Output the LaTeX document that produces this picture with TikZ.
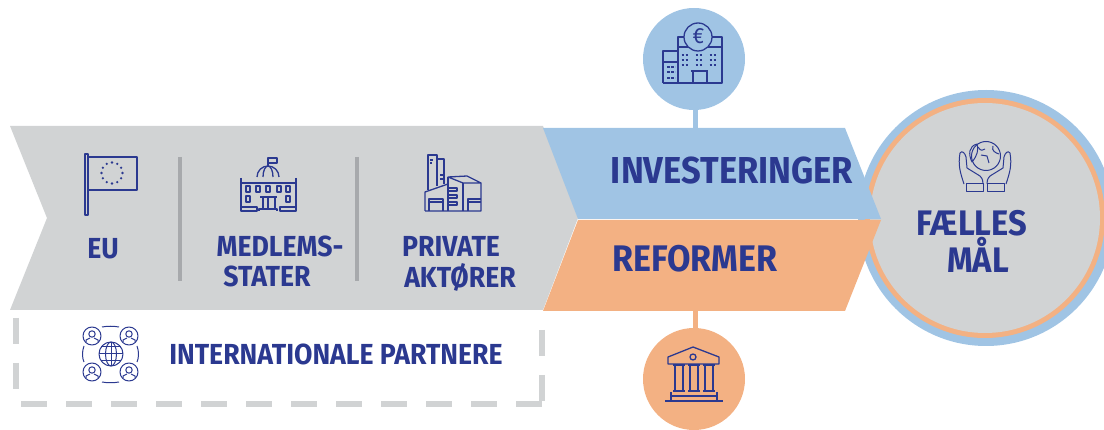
\documentclass[tikz,border=0pt]{standalone}
\usepackage{fontspec}
\setmainfont{Fira Sans}[FakeStretch=0.92]
\definecolor{grayband}{HTML}{D1D3D4}
\definecolor{divgray}{HTML}{A7A9AC}
\definecolor{bluefill}{HTML}{A0C4E4}
\definecolor{orangefill}{HTML}{F3B183}
\definecolor{ink}{HTML}{2B3990}
\tikzset{
  lab/.style={text=ink,font=\bfseries\fontsize{#1}{#1}\selectfont,inner sep=0pt,align=center},
  icon/.style={draw=ink,line width=1.3pt,line join=round,fill=none},
  thin icon/.style={draw=ink,line width=1pt,line join=round,fill=none},
  stem/.style={line width=5pt},
  divider/.style={draw=divgray,line width=4pt},
  dashbox/.style={draw=grayband,line width=6pt,dash pattern=on 26pt off 19pt},
  round node/.style={circle,inner sep=0pt,minimum size=#1}
}
\begin{document}
\begin{tikzpicture}[x=1pt,y=-1pt]
\useasboundingbox (0,0) rectangle (1104,430);
\begin{scope}
\clip (0,0) rectangle (1104,430);
% shared goal circle
\node[round node=256pt,fill=bluefill] (outer) at (986,218) {};
\node[round node=240pt,fill=orangefill] (middle) at (985,218) {};
\node[round node=230pt,fill=grayband] (goal) at (985,218) {};
\end{scope}
% round nodes and stems
\coordinate (bluetop) at (695,130);
\coordinate (orangetop) at (695,309);
\node[round node=102pt,fill=bluefill] (bank) at (694,59) {};
\node[round node=102pt,fill=orangefill] (court) at (694,379) {};
\draw[stem,draw=bluefill] (bank.south) ++(1,-1) -- (bluetop);
\draw[stem,draw=orangefill] (court.north) ++(1,1) -- (orangetop);
% bands
\fill[grayband] (10,126) -- (543,126) -- (578,218) -- (543,310) -- (10,310) -- (47,218) -- cycle;
\fill[bluefill] (543,128) -- (845,128) -- (881,219) -- (578,219) -- cycle;
\fill[orangefill] (578,220) -- (881,220) -- (845,311) -- (543,311) -- cycle;
% dividers
\draw[divider] (180,157) -- (180,281);
\draw[divider] (357,157) -- (357,281);
% dashed frame
\draw[dashbox] (16,318) -- (16,390);
\draw[dashbox] (21,404) -- (545,404);
\draw[dashbox] (542,330) -- (542,402);
% labels
\node[lab=29] (eu) at (103,249) {EU};
\node[lab=29] (ms1) at (280,246) {MEDLEMS-};
\node[lab=29] (ms2) at (267,276) {STATER};
\node[lab=29] (pa1) at (451,246) {PRIVATE};
\node[lab=29] (pa2) at (460,277) {AKTØRER};
\node[lab=37.5] (inv) at (732,171) {INVESTERINGER};
\node[lab=37] (ref) at (695,259) {REFORMER};
\node[lab=29] (intl) at (336,354) {INTERNATIONALE PARTNERE};
\node[lab=35.5] (f1) at (972,223) {FÆLLES};
\node[lab=35.5] (f2) at (978,255) {MÅL};
% EU flag
\draw[icon] (85,154) rectangle (88,215);
\draw[icon] (88,157) -- (137,157) -- (137,190) -- (88,190);
\foreach \a in {0,30,...,330} \fill[ink] (112,173) ++(\a:10.5) circle (1.3);
% parliament
\draw[icon] (241,178) -- (241,211) (296,178) -- (296,211) (241,183) -- (296,183);
\draw[icon] (257,177) arc[start angle=180,end angle=360,radius=11];
\draw[icon] (263,177) arc[start angle=180,end angle=360,x radius=5,y radius=11];
\draw[icon] (268,166) -- (268,158) -- (277,158) -- (277,163) -- (268,163);
\foreach \x in {248,258,268,279,288} \draw[icon] (\x-2,186) rectangle (\x+2,192);
\foreach \x in {248,288} \draw[icon] (\x-2,196) rectangle (\x+2,202);
\draw[icon] (260,197) -- (277,197);
\foreach \x in {263,268,275} \draw[icon] (\x,197) -- (\x,208);
\draw[icon] (241,207) rectangle (257,211);
\draw[icon] (280,207) rectangle (296,211);
\draw[icon] (259,211) -- (259,209) -- (277,209) -- (277,211);
% factory
\draw[icon] (428,190) -- (428,155) -- (437,155) -- (437,186);
\draw[icon] (437,159) -- (444,159) -- (444,184);
\draw[icon] (430,160) -- (433,160) (430,163) -- (432,163) (440,175) -- (444,175) (440,179) -- (444,179);
\draw[icon] (425,211) -- (425,192) -- (448,184) (425,211) -- (481,211) -- (481,183) -- (467,176) -- (448,177) -- (463,183) -- (481,183);
\draw[icon] (448,177) -- (448,211) (463,183) -- (463,211);
\draw[icon] (448,188) -- (457,188) -- (457,191) -- (448,191) (448,195) -- (457,195) -- (457,198) -- (448,198) (448,202) -- (457,202) -- (457,205) -- (448,205);
\draw[icon] (429,211) -- (429,199) -- (443,199) -- (443,211) (429,202) -- (443,202);
\draw[icon] (468,211) -- (468,199) -- (481,199) (468,202) -- (481,202);
% euro building
\draw[icon] (685,37) -- (678,37) -- (678,83) -- (722,83) -- (722,37) -- (711,37);
\draw[icon] (678,47) -- (722,47);
\draw[icon] (663,83) -- (663,51) -- (678,51) (663,62) -- (678,62) (663,83) -- (678,83);
\draw[icon,fill=bluefill] (698,37) circle (14);
\node[text=ink,font=\fontsize{22}{22}\selectfont,inner sep=0pt] (euro) at (698.5,36.5) {€};
\draw[icon] (691,71) -- (708,71) (693,71) -- (693,83) (707,71) -- (707,83);
\foreach \x in {685,699,713} \foreach \y in {55,60,65} \draw[ink,line width=1.2pt,dash pattern=on 2.5pt off 1.5pt] (\x-3.5,\y) -- (\x+3.5,\y);
\foreach \y in {67,72,78} \draw[ink,line width=1.2pt,dash pattern=on 2.5pt off 1.5pt] (667,\y) -- (675,\y);
% bank
\draw[icon] (668,364) -- (668,357) -- (693,347) -- (719,357) -- (719,364) -- cycle;
\draw[icon] (693,357) circle (3);
\foreach \x in {679,694,709} {
  \draw[icon] (\x-4,366) -- (\x-4,390) (\x+4,366) -- (\x+4,390);
  \draw[icon] (\x-6,365) -- (\x+6,365) (\x-6,391) -- (\x+6,391);
}
\draw[icon] (671,396) -- (717,396) (671,392) -- (671,400) (717,392) -- (717,400);
\draw[icon] (665,401) -- (723,401);
% hands with globe
\draw[thin icon] (986,156) circle (14.5);
\draw[thin icon] (978,147) .. controls (981,152) and (983,150) .. (985,149) (981,155) -- (987,156) -- (989,163) (993,146) .. controls (991,151) and (996,153) .. (999,154);
\draw[thin icon] (977,144) .. controls (969,146) and (968,154) .. (972,162) .. controls (977,156) and (979,150) .. (977,144);
\draw[thin icon] (966,184) rectangle (983,192);
\draw[thin icon] (987,184) rectangle (1004,192);
\draw[thin icon] (964,184) .. controls (960,172) and (958,165) .. (960,153) .. controls (962,150) and (965,153) .. (966,157) -- (967,168) -- (980,176) .. controls (983,179) and (983,182) .. (983,184);
\draw[thin icon] (1006,184) .. controls (1010,172) and (1012,165) .. (1010,153) .. controls (1008,150) and (1005,153) .. (1004,157) -- (1003,168) -- (990,176) .. controls (987,179) and (987,182) .. (987,184);
% partners icon
\draw[thin icon] (111,354) circle (12);
\draw[thin icon] (111,354) ellipse (5.5 and 12);
\draw[thin icon] (99,354) -- (123,354) (111,342) -- (111,366) (101,347) -- (121,347) (101,361) -- (121,361);
\foreach \x/\y in {92/336,129/336,92/372,129/372} {
  \draw[thin icon] (\x,\y) circle (9);
  \draw[thin icon] (\x,\y-2) circle (3.2);
  \draw[thin icon] (\x-6,\y+6) -- (\x-6,\y+4) -- (\x-2,\y+2) (\x+6,\y+6) -- (\x+6,\y+4) -- (\x+2,\y+2);
}
\draw[thin icon] (102,327) .. controls (107,326) and (114,326) .. (119,327);
\draw[thin icon] (102,382) .. controls (107,383) and (114,383) .. (119,382);
\draw[thin icon] (84,346) .. controls (82,351) and (82,358) .. (84,362);
\draw[thin icon] (137,346) .. controls (139,351) and (139,358) .. (137,362);
\end{tikzpicture}
\end{document}
